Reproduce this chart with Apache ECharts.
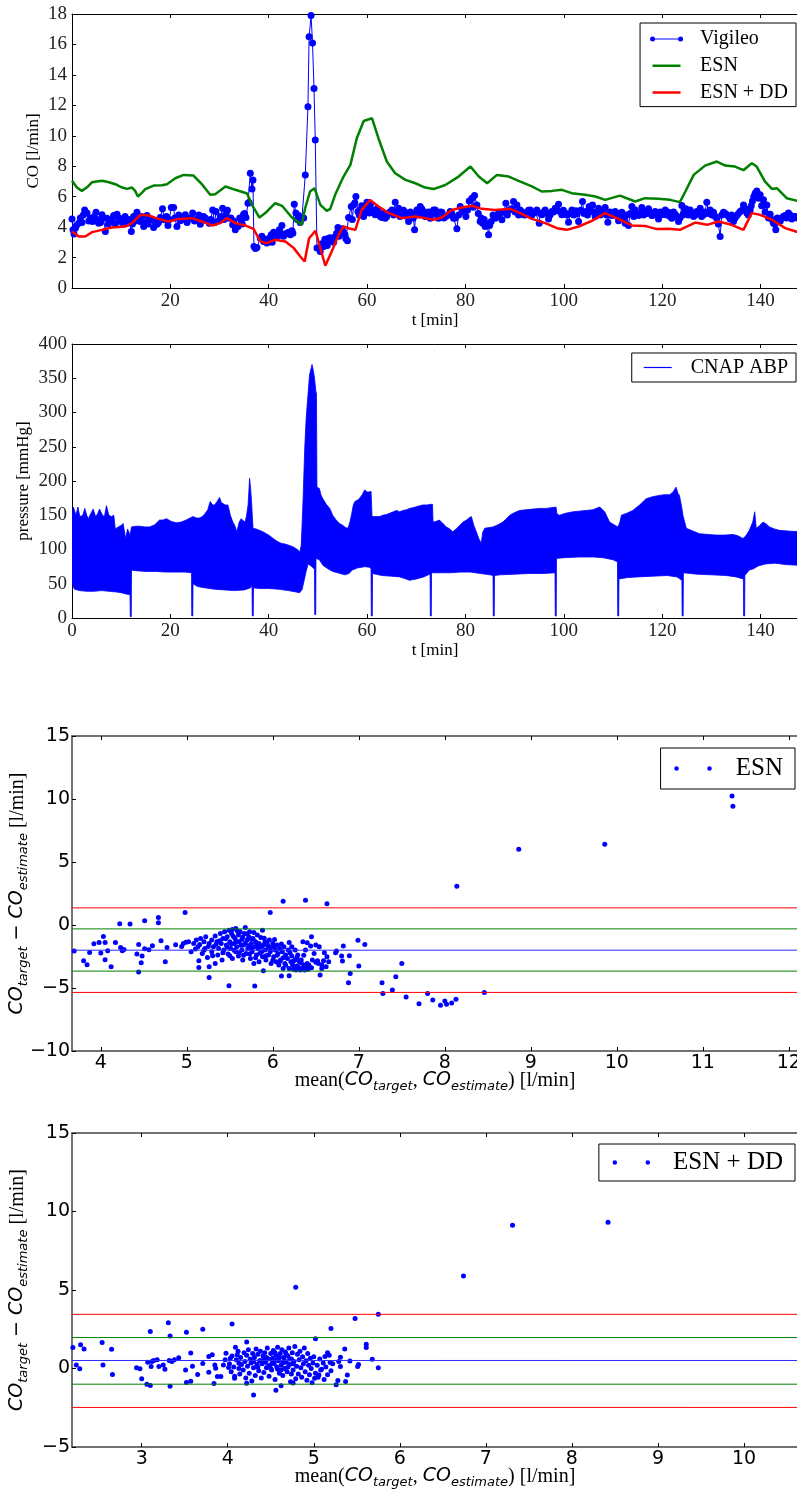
<!DOCTYPE html>
<html><head><meta charset="utf-8">
<script src="https://cdn.jsdelivr.net/npm/echarts@6/dist/echarts.min.js"></script>
<style>html,body{margin:0;padding:0;background:#fff}#c{width:797px;height:1492px}</style>
</head><body><div id="c"></div>
<script>
// ---------- Panel 1: CO over time ----------
const vigileo = [[0,4.54],[0.2,3.82],[0.4,3.54],[0.68,3.93],[1.36,4.26],[2.03,4.3],[2.57,5.13],[3.05,4.92],[3.73,4.59],[4.2,4.37],[4.88,4.98],[5.42,4.26],[6.1,4.81],[6.78,3.71],[7.11,4.59],[7.79,4.37],[8.47,4.76],[9.15,4.85],[9.82,4.41],[10.5,4.59],[11.18,4.26],[12.06,3.71],[12.53,4.7],[13.21,4.98],[13.89,4.37],[14.57,4.04],[15.24,4.76],[15.72,4.54],[16.6,3.97],[17.28,4.19],[17.95,4.63],[18.83,4.48],[19.51,4.11],[20.19,5.29],[20.66,5.29],[21.34,4.04],[22.02,4.41],[23.04,4.81],[23.85,4.59],[24.53,4.92],[25.41,4.54],[26.08,4.19],[26.76,4.7],[27.44,4.41],[27.91,4.26],[28.59,5.13],[29.27,5.02],[29.81,4.41],[30.62,5.24],[31.3,4.85],[31.98,4.59],[32.66,4.15],[33.2,3.82],[33.74,4.04],[34.42,4.37],[34.89,4.85],[35.37,4.63],[35.77,5.57],[36.0,5.62],[36.25,7.54],[36.59,6.51],[36.79,7.1],[36.99,2.73],[37.3,2.6],[37.6,2.66],[38.28,3.27],[38.96,3.06],[39.63,2.95],[40.51,3.49],[40.99,3.67],[41.46,3.38],[42.14,3.82],[42.68,4.11],[43.36,3.54],[44.04,3.67],[44.72,3.76],[45.19,5.51],[45.53,4.92],[46.07,4.76],[46.75,4.59],[47.43,7.43],[47.97,11.9],[48.2,16.5],[48.6,17.9],[48.9,16.1],[49.2,13.1],[49.46,9.73],[49.8,2.62],[50.47,2.4],[51.15,2.73],[51.63,3.06],[52.17,3.27],[52.85,3.06],[53.52,3.38],[54.07,3.97],[54.54,3.71],[55.22,3.67],[55.69,3.23],[56.23,4.63],[56.78,5.35],[57.25,5.46],[57.72,6.01],[58.13,5.02],[58.6,5.13],[59.28,4.7],[59.96,5.64],[60.43,4.92],[60.98,5.13],[61.65,4.81],[62.33,4.98],[63.01,4.63],[63.69,4.59],[64.36,4.92],[65.04,5.13],[65.72,5.64],[66.4,5.24],[67.07,4.76],[67.75,4.98],[68.43,4.37],[69.11,4.81],[69.65,3.82],[70.12,5.13],[70.8,5.35],[71.48,5.02],[72.15,4.81],[72.83,4.59],[73.51,5.13],[73.85,5.13],[74.53,4.59],[75.2,4.98],[76.02,4.7],[76.9,5.02],[77.57,4.59],[78.25,3.89],[78.93,5.35],[79.61,5.13],[80.08,4.7],[80.76,5.72],[81.3,5.9],[81.84,6.07],[82.32,5.46],[82.99,4.37],[83.47,4.26],[84.01,4.04],[84.69,3.49],[85.23,4.37],[86.04,4.59],[86.72,4.92],[87.4,4.48],[88.21,5.57],[88.89,5.13],[89.77,5.68],[90.45,5.46],[91.12,5.13],[91.8,4.81],[92.48,4.98],[93.16,5.13],[93.83,4.92],[94.51,5.13],[94.99,4.26],[95.53,4.81],[96.2,5.13],[96.88,4.54],[97.56,5.02],[98.24,5.24],[98.92,5.51],[99.59,4.81],[100.27,4.92],[100.95,4.32],[101.63,5.13],[102.44,5.07],[102.98,4.37],[103.79,5.68],[104.47,5.02],[105.15,5.35],[105.83,5.46],[106.37,4.7],[107.05,5.24],[107.72,5.02],[108.4,5.29],[108.94,4.32],[109.76,4.76],[110.43,5.02],[111.11,4.41],[111.79,4.98],[112.47,4.26],[113.14,4.11],[113.82,5.35],[114.5,5.13],[115.18,4.76],[115.85,5.29],[116.53,5.02],[117.21,5.2],[117.89,4.76],[118.56,5.02],[119.24,4.54],[119.92,4.81],[120.6,5.13],[121.27,4.98],[121.95,4.59],[122.63,4.85],[123.31,4.37],[123.98,5.42],[124.53,5.13],[125.0,4.98],[125.68,5.13],[126.36,4.7],[127.03,5.02],[127.71,5.24],[128.39,4.81],[129.06,5.64],[129.74,5.13],[130.42,4.98],[131.1,4.59],[131.77,3.38],[132.45,4.98],[133.13,4.81],[133.81,4.54],[134.48,4.37],[135.16,4.76],[135.84,5.02],[136.52,5.46],[137.19,4.92],[137.87,5.13],[138.35,5.72],[138.89,6.23],[139.23,6.38],[139.9,6.12],[140.58,5.79],[141.26,5.46],[141.94,4.85],[142.61,4.26],[143.09,3.82],[143.63,4.37],[144.31,4.59],[144.99,4.76],[145.66,4.92],[146.34,4.54],[147.02,4.7]];
// further Vigileo readings between the ones above
const vigileoMore = [[0.9,4.1],[1.7,4.6],[2.3,4.8],[3.4,4.4],[4.5,4.7],[5.1,4.5],[5.8,4.3],[6.4,4.6],[7.4,4.2],[8.1,4.5],[8.8,4.2],[9.5,4.6],[10.2,4.3],[10.8,4.7],[11.6,4.5],[12.3,4.2],[12.9,4.4],[13.5,4.6],[14.2,4.7],[14.9,4.3],[15.5,4.2],[16.2,4.5],[16.9,4.4],[17.6,4.3],[18.4,5.2],[19.2,4.7],[19.8,4.5],[20.9,4.6],[21.7,4.8],[22.4,4.5],[23.4,4.3],[24.2,4.6],[24.9,4.4],[25.8,4.8],[26.4,4.5],[27.1,4.6],[28.2,4.5],[29.0,4.3],[30.2,4.7],[30.9,4.5],[31.6,5.1],[32.3,4.6],[32.9,4.4],[34.1,4.6],[34.6,4.2],[35.1,4.9],[38.6,3.4],[39.3,3.2],[40.2,3.3],[40.7,3.0],[41.2,3.5],[41.8,3.4],[42.4,3.6],[43.0,3.4],[43.7,3.6],[44.4,3.5],[44.9,3.6],[45.8,4.5],[46.4,4.3],[47.1,4.6],[50.8,2.9],[51.4,3.2],[51.9,2.8],[52.5,3.3],[53.2,3.0],[53.8,3.6],[54.3,3.4],[54.9,3.9],[55.5,3.5],[56.0,3.1],[57.0,4.5],[57.5,5.6],[58.4,4.8],[58.9,5.4],[59.6,5.0],[60.2,5.3],[60.7,5.5],[61.3,5.0],[62.0,5.2],[62.7,4.7],[63.4,4.9],[64.0,4.7],[64.7,5.0],[65.4,4.8],[66.1,5.0],[66.7,4.7],[67.4,5.1],[68.1,4.7],[68.8,5.0],[69.4,4.6],[69.9,4.9],[70.5,4.8],[71.1,5.2],[71.8,4.7],[72.5,5.0],[73.2,4.9],[74.2,4.8],[74.9,5.0],[75.6,4.6],[76.5,4.8],[77.2,4.9],[77.9,4.6],[78.6,4.8],[79.3,5.0],[80.4,5.1],[81.6,5.3],[82.6,4.9],[83.2,4.6],[83.8,4.5],[84.4,4.2],[84.9,4.1],[85.6,4.8],[86.4,4.7],[87.0,4.9],[87.8,5.0],[88.5,4.8],[89.3,5.2],[90.1,5.0],[90.8,4.8],[91.5,5.0],[92.1,4.8],[92.8,5.1],[93.5,4.8],[94.2,5.0],[95.2,4.9],[95.9,5.0],[96.5,4.9],[97.2,4.8],[97.9,5.0],[98.6,5.1],[99.3,5.0],[99.9,5.1],[100.6,4.8],[101.3,4.9],[102.0,4.8],[102.7,4.9],[103.4,5.1],[104.1,4.9],[104.8,4.8],[105.5,5.1],[106.0,5.0],[106.7,4.9],[107.4,4.8],[108.0,4.9],[108.7,4.8],[109.4,5.0],[110.1,4.8],[110.8,4.9],[111.5,4.7],[112.1,4.6],[112.8,4.8],[113.5,4.9],[114.2,4.7],[114.8,4.9],[115.5,4.9],[116.2,4.8],[116.9,4.9],[117.5,5.0],[118.2,4.8],[118.9,4.9],[119.6,5.0],[120.3,4.9],[120.9,4.8],[121.6,4.7],[122.3,5.0],[123.0,4.7],[123.6,4.6],[124.2,4.8],[124.8,5.2],[125.3,4.8],[126.0,4.9],[126.7,4.8],[127.4,4.9],[128.0,4.7],[128.7,5.0],[129.4,4.9],[130.1,4.8],[130.8,4.7],[131.4,4.2],[132.1,4.8],[132.8,4.9],[133.5,4.7],[134.1,4.8],[134.8,4.6],[135.5,4.9],[136.2,5.1],[136.9,5.2],[137.5,4.8],[138.1,5.4],[138.6,6.0],[139.6,5.9],[140.2,5.4],[140.9,5.0],[141.6,4.6],[142.3,4.5],[142.9,4.2],[143.4,4.6],[144.0,4.4],[144.6,4.7],[145.3,4.6],[146.0,4.8],[146.7,4.7],[147.4,4.6]];

const esn = [[0,7.04],[1.0,6.6],[2.0,6.38],[3.0,6.6],[4.1,6.95],[5.0,7.0],[6.1,7.04],[7.5,6.95],[8.8,6.82],[10.2,6.6],[11.2,6.51],[12.2,6.6],[12.8,6.4],[13.4,6.01],[14.2,6.25],[14.9,6.49],[16.6,6.73],[18.3,6.75],[19.3,6.82],[21.0,7.21],[22.7,7.43],[24.7,7.39],[26.4,6.82],[28.1,6.12],[29.1,6.16],[31.2,6.67],[33.2,6.45],[35.6,6.21],[36.6,5.46],[38.1,4.63],[39.3,4.92],[41.3,5.57],[42.7,5.4],[44.7,4.63],[46.7,4.15],[47.4,5.24],[48.4,6.34],[49.3,6.56],[50.5,5.46],[51.8,5.07],[52.5,5.2],[53.5,6.12],[55.2,7.32],[56.6,8.09],[57.9,9.84],[59.3,10.97],[61.0,11.15],[62.3,9.84],[64.0,8.31],[65.7,7.54],[67.8,7.1],[69.8,6.88],[71.8,6.6],[73.5,6.5],[75.9,6.77],[78.6,7.32],[81.0,7.98],[82.7,7.32],[84.4,6.88],[86.4,7.43],[88.8,7.32],[90.8,7.04],[93.5,6.67],[95.5,6.34],[97.6,6.38],[99.6,6.45],[101.6,6.23],[104.3,6.12],[106.4,6.01],[108.4,5.79],[111.4,6.07],[114.5,5.68],[116.5,5.9],[119.2,5.86],[121.6,5.79],[123.6,5.64],[124.7,6.34],[126.4,7.43],[128.7,8.04],[131.1,8.31],[132.8,8.04],[134.8,7.98],[136.5,7.74],[138.2,8.2],[139.2,7.98],[140.9,6.99],[142.3,6.51],[143.3,6.56],[145.3,5.9],[147.6,5.72]];

const esnDD = [[0,3.71],[1.4,3.38],[2.7,3.38],[4.1,3.67],[6.1,3.82],[8.1,3.97],[10.8,4.04],[12.2,4.26],[13.9,4.81],[15.6,4.76],[17.6,4.54],[19.6,4.37],[21.7,4.54],[24.4,4.59],[26.4,4.37],[28.5,4.11],[30.1,4.26],[31.5,4.59],[33.2,4.26],[35.2,4.11],[36.9,3.89],[38.3,3.06],[39.6,2.95],[41.3,3.17],[43.4,3.06],[45.1,2.62],[46.4,2.07],[47.3,1.74],[48.2,3.27],[49.5,3.76],[50.3,2.84],[51.5,1.46],[52.8,2.4],[54.2,3.49],[55.2,4.04],[56.2,3.93],[57.6,3.82],[58.9,5.13],[60.6,5.79],[62.3,5.35],[64.4,4.92],[67.1,4.59],[69.8,4.7],[71.8,4.59],[73.5,4.48],[75.2,4.63],[77.2,5.13],[79.3,5.29],[81.3,5.4],[83.3,5.2],[86.0,5.13],[89.1,5.2],[91.1,4.92],[93.5,4.54],[96.2,4.26],[98.6,3.93],[100.6,3.82],[103.0,4.04],[105.7,4.41],[108.4,4.92],[111.1,4.54],[113.8,4.11],[116.5,4.08],[118.9,3.87],[121.3,3.89],[123.6,3.82],[126.7,4.3],[129.1,4.15],[131.4,4.37],[134.1,4.15],[136.5,3.82],[138.2,4.92],[139.9,4.81],[142.3,4.48],[145.0,3.93],[147.6,3.67]];

// ---------- Panel 2: CNAP ABP envelope ----------
const abpUpper = [[0,150],[0.3,162],[0.8,150],[1.2,162],[1.6,148],[2.2,150],[2.6,160],[3.0,150],[3.3,145],[3.8,152],[4.3,159],[4.8,148],[5.2,152],[5.6,159],[6.2,150],[6.6,148],[7.0,164],[7.5,150],[8.0,148],[8.5,150],[8.8,130],[9.4,133],[10.0,135],[10.4,138],[10.9,116],[11.3,130],[11.8,121],[12.1,133],[13.0,134],[13.8,134],[14.8,133],[15.8,133],[16.8,136],[17.8,143],[18.5,143],[19.2,145],[20.2,141],[21.2,139],[22.2,140],[23.2,143],[24.0,146],[24.6,148],[25.3,146],[25.9,146],[26.5,148],[27.0,152],[27.6,158],[28.1,170],[28.6,165],[29.0,165],[29.5,170],[30.0,176],[30.4,168],[30.7,167],[31.2,165],[31.7,165],[32.2,150],[32.7,140],[33.1,135],[33.5,126],[34.0,140],[34.4,145],[34.8,142],[35.2,140],[35.5,150],[35.8,165],[36.0,190],[36.1,204],[36.3,190],[36.5,170],[36.8,131],[37.4,130],[38.1,128],[38.8,126],[39.5,123],[40.2,120],[40.9,116],[41.7,112],[42.5,109],[43.3,108],[44.2,106],[44.9,104],[45.6,101],[46.0,99],[46.3,96],[46.6,106],[46.8,140],[47.0,177],[47.3,245],[47.6,291],[48.0,328],[48.3,355],[48.6,364],[48.8,370],[49.1,360],[49.3,350],[49.6,330],[49.7,328],[49.8,191],[50.3,189],[50.6,180],[51.0,174],[51.7,166],[52.4,160],[53.0,150],[53.7,143],[54.4,138],[55.1,135],[55.6,132],[56.1,131],[56.5,140],[56.8,150],[57.2,165],[57.5,170],[58.0,172],[58.5,175],[59.0,180],[59.5,187],[60.0,184],[60.5,184],[60.8,185],[61.0,148],[61.8,148],[62.5,148],[63.2,150],[63.9,151],[64.6,153],[65.3,155],[66.0,157],[66.6,155],[67.3,157],[68.0,158],[68.6,160],[69.3,161],[70.3,163],[71.3,165],[72.2,165],[73.0,166],[73.3,166],[73.4,140],[74.0,141],[74.7,143],[75.4,138],[76.1,133],[76.8,130],[77.4,126],[78.1,130],[78.8,135],[79.5,140],[80.2,143],[80.7,146],[81.2,148],[81.7,135],[82.2,126],[82.7,116],[83.2,109],[83.5,125],[83.9,131],[84.8,132],[85.6,133],[86.6,136],[87.6,140],[88.3,145],[89.0,150],[90.0,154],[91.0,157],[92.3,158],[93.7,159],[95.0,160],[96.4,160],[97.4,161],[98.4,162],[98.6,152],[99.1,150],[100.4,153],[101.8,155],[103.1,156],[104.5,157],[105.9,158],[107.3,162],[108.3,155],[109.3,140],[110.2,136],[111.0,133],[111.4,140],[111.7,150],[112.8,153],[114.0,157],[115.4,165],[116.7,174],[118.0,177],[119.4,179],[120.5,180],[121.5,180],[122.2,184],[122.8,191],[123.2,182],[123.5,179],[124.0,160],[124.2,150],[124.9,131],[126.2,127],[127.6,123],[129.3,122],[131.0,121],[132.7,121],[134.4,122],[135.4,120],[136.4,116],[137.0,120],[137.7,128],[138.4,140],[138.8,155],[139.0,140],[139.1,131],[139.8,135],[140.5,140],[141.2,137],[141.8,133],[142.8,130],[143.8,128],[145.5,127],[147.6,126]];

const abpLower = [[0,50],[0.5,42],[1.5,40],[3.0,39],[4.5,39],[6.0,40],[7.5,39],[9.0,38],[10.0,37],[11.0,35],[11.8,34],[11.85,2],[12.05,2],[12.1,70],[13.0,69],[15.0,68],[17.0,68],[19.0,67],[21.0,67],[23.0,67],[24.3,66],[24.35,3],[24.55,3],[24.6,50],[25.5,46],[27.0,44],[29.0,42],[31.0,41],[33.0,40],[35.0,41],[36.3,44],[36.6,48],[36.65,3],[36.85,3],[36.9,44],[38.0,43],[40.0,43],[42.0,42],[44.0,40],[45.5,38],[46.3,37],[46.8,42],[47.2,55],[47.6,68],[48.0,79],[48.6,76],[49.2,72],[49.3,72],[49.35,5],[49.55,5],[49.6,87],[50.3,85],[51.0,77],[52.0,72],[53.0,68],[54.0,66],[55.5,63],[56.3,65],[57.0,70],[58.0,73],[59.5,75],[60.5,74],[60.8,72],[60.85,3],[61.05,3],[61.1,65],[63.0,62],[65.0,61],[66.6,60],[67.5,58],[68.6,55],[70.0,57],[71.5,60],[72.7,64],[72.8,64],[72.85,3],[73.05,3],[73.1,66],[75.0,66],[77.0,66],[79.0,67],[81.0,67],[83.0,65],[85.0,63],[85.6,62],[85.65,3],[85.85,3],[85.9,62],[87.0,63],[90.0,64],[93.0,65],[96.0,65],[98.2,66],[98.25,3],[98.45,3],[98.5,87],[100.0,88],[103.0,89],[106.0,89],[108.0,88],[110.0,85],[110.9,82],[110.95,3],[111.15,3],[111.2,57],[113.0,59],[115.0,60],[118.0,61],[121.0,62],[123.0,60],[124.0,55],[124.05,3],[124.25,3],[124.3,66],[127.0,64],[130.0,63],[133.0,62],[135.0,60],[136.5,57],[136.55,3],[136.75,3],[136.8,62],[137.7,70],[138.6,72],[139.5,76],[141.0,79],[143.0,80],[145.0,78],[147.6,77]];

// ---------- Panel 3: Bland-Altman ESN ----------
const baEsn = [[3.69,-2.07],[3.8,-2.84],[3.84,-3.15],[3.87,-2.18],[3.92,-1.49],[3.98,-1.38],[4.0,-2.23],[4.03,-0.91],[4.05,-2.76],[4.05,-1.38],[4.08,-2.04],[4.12,-3.31],[4.17,-1.38],[4.22,0.1],[4.23,-1.78],[4.25,-2.04],[4.27,-1.94],[4.34,0.07],[4.42,-2.31],[4.44,-1.54],[4.47,-3.0],[4.44,-3.74],[4.48,-2.47],[4.51,0.34],[4.51,-1.89],[4.56,-1.96],[4.6,-1.65],[4.67,0.6],[4.67,0.18],[4.7,-1.25],[4.75,-2.92],[4.77,-1.78],[4.87,-1.57],[4.94,-1.7],[4.96,-1.46],[4.98,1.0],[4.99,-1.36],
[5.02,-1.33],[5.05,-2.12],[5.08,-1.46],[5.11,-1.2],[5.13,-1.73],[5.14,-2.84],[5.16,-1.07],[5.18,-2.26],[5.2,-1.33],[5.21,-1.86],[5.22,-0.93],[5.24,-2.57],[5.26,-1.46],[5.26,-3.31],[5.29,-1.2],[5.29,-2.12],[5.31,-1.73],[5.33,-3.05],[5.33,-0.88],[5.35,-1.33],[5.36,-2.39],[5.37,-1.86],[5.39,-0.67],[5.4,-1.46],[5.41,-2.78],[5.42,-1.07],[5.43,-1.99],[5.44,-0.54],[5.46,-1.59],[5.47,-0.93],[5.48,-2.31],[5.49,-0.41],[5.5,-1.33],[5.51,-1.86],[5.52,-0.67],[5.53,-2.65],[5.53,-0.35],[5.55,-1.46],[5.56,-1.07],[5.57,-2.12],[5.57,-0.27],[5.58,-1.73],[5.6,-0.8],[5.6,-2.47],[5.61,-1.33],[5.62,-0.54],[5.64,-1.99],[5.64,-1.15],[5.65,-2.78],[5.66,-1.59],[5.67,-0.67],[5.68,-0.19],[5.69,-2.26],[5.7,-1.2],[5.71,-1.86],[5.72,-0.93],[5.73,-0.54],[5.74,-2.65],[5.75,-1.46],[5.76,-2.12],[5.77,-1.07],[5.78,-3.05],[5.79,-1.73],[5.8,-1.33],[5.81,-2.39],[5.82,-0.8],[5.83,-1.86],[5.84,-2.92],[5.84,-1.46],[5.86,-0.99],[5.87,-2.12],[5.88,-0.41],[5.88,-2.52],[5.89,-1.59],[5.91,-1.33],[5.91,-1.99],[5.92,-2.78],[5.93,-1.46],[5.95,-1.86],[5.95,-2.39],[5.96,-1.2],[5.97,-2.12],[5.98,-3.05],[5.99,-1.73],[6.0,-1.46],[6.01,-2.52],[6.02,-1.15],[6.03,-1.99],[6.04,-2.92],[6.05,-1.59],[6.06,-2.26],[6.07,-3.18],[6.08,-1.86],[6.09,-2.78],[6.1,-4.05],[6.11,-2.12],[6.12,-3.45],[6.13,-1.73],[6.14,-3.05],[6.15,-2.39],[6.17,-2.65],[6.18,-1.99],[6.19,-1.38],[6.19,-3.45],[6.21,-2.92],[6.22,-2.47],[6.22,-1.73],[6.23,-3.18],[6.24,-3.52],[6.26,-2.78],[6.26,-1.99],[6.27,-3.58],[6.28,-2.57],[6.29,-2.39],[6.3,-3.37],[6.31,-2.92],[6.32,-3.58],[6.33,-2.78],[6.34,-3.45],[6.35,-1.33],[6.36,-3.18],[6.37,-3.58],[6.38,-1.99],[6.39,-3.37],[6.4,-1.41],[6.41,-3.52],[6.42,-3.18],[6.43,-3.37],[6.44,-1.67],[6.45,-0.93],[6.46,-2.78],[6.48,-2.26],[6.5,-1.59],[6.52,-2.84],[6.53,-3.05],[6.54,-1.73],[6.55,-3.97],[6.57,-3.18],[6.57,-3.45],[6.59,-2.84],[6.6,-2.2],[6.62,-3.31],[6.63,-2.52],[6.65,-2.92],[6.73,-2.2],[6.74,-2.07],[6.8,-2.47],[6.81,-2.86],[6.82,-1.67],[6.88,-4.58],[6.89,-2.44],[6.9,-3.84],[6.99,-1.22],[7.0,-3.26],[7.07,-1.54],
[5.49,-4.82],[5.79,-4.85],[5.26,-4.16],[6.19,-4.03],[5.89,-3.63],[5.14,-3.37],
[5.34,-1.55],[5.38,-1.25],[5.42,-2.2],[5.45,-1.1],[5.47,-1.75],[5.5,-2.45],[5.52,-1.5],[5.54,-0.9],[5.55,-2.0],[5.58,-1.3],[5.59,-0.5],[5.61,-2.2],[5.63,-1.6],[5.65,-0.95],[5.66,-2.4],[5.68,-1.45],[5.7,-0.7],[5.72,-1.65],[5.73,-2.3],[5.75,-1.1],[5.76,-1.85],[5.78,-0.6],[5.8,-2.6],[5.82,-1.55],[5.85,-2.25],[5.87,-1.7],[5.9,-1.05],[5.92,-2.45],[5.94,-1.6],[5.97,-2.0],[6.0,-2.8],[6.02,-1.7],[6.05,-2.4],[6.08,-2.9],[6.1,-1.5],[6.12,-2.6],[6.15,-3.2],[6.2,-2.2],[6.24,-2.85],[6.28,-3.25],[6.33,-3.0],[6.36,-2.4],[6.4,-3.05],[6.45,-3.4],[6.5,-2.95],[5.25,-1.7],[5.2,-2.0],[5.3,-2.45],[5.15,-1.55],[5.1,-1.9],
[5.97,1.0],[6.12,1.89],[6.38,1.97],[6.63,1.68],
[7.27,-4.58],[7.28,-5.43],[7.39,-5.16],[7.43,-4.11],[7.5,-3.05],[7.55,-5.72],[7.7,-6.25],[7.8,-5.43],[7.86,-5.96],[7.95,-6.36],[8.0,-6.04],[8.02,-6.28],[8.08,-6.2],[8.13,-5.9],[8.14,3.08],[8.46,-5.35],[8.86,6.02],[9.86,6.41],[11.34,10.24],[11.35,9.42]];
const baEsnLines = [1.36, -0.31, -2.0, -3.66, -5.35];

// ---------- Panel 4: Bland-Altman ESN + DD ----------
const baDD = [[2.2,1.33],[2.29,1.52],[2.33,1.25],[2.24,0.23],[2.28,-0.02],[2.54,1.65],[2.65,1.23],[2.55,0.23],[2.66,-0.38],[2.94,0.04],[2.98,-0.02],[3.0,-0.66],[3.07,0.4],[3.06,-1.0],[3.1,-1.08],[3.1,2.35],[3.11,0.12],[3.12,0.44],[3.14,0.51],[3.18,0.55],[3.2,0.12],[3.25,0.23],[3.27,-0.05],[3.31,2.92],[3.32,0.51],[3.33,-1.13],[3.33,2.07],[3.35,0.44],[3.38,0.55],[3.43,0.68],[3.51,-0.09],[3.52,-0.89],[3.52,2.31],[3.57,0.99],[3.57,-0.81],[3.59,0.15],[3.65,-0.38],[3.71,0.32],[3.71,2.5],[3.78,-0.24],[3.78,0.76],[3.82,0.87],[3.84,-0.96],[3.85,0.23],[3.86,0.02],[3.88,-0.51],[3.92,-0.51],[3.95,0.23],[3.97,0.55],[3.98,0.97],[4.01,0.06],[4.03,0.65],[4.05,2.84],[4.08,-0.62],[4.09,1.35],[4.11,0.87],[4.13,0.34],[4.22,1.69],[4.22,-0.94],[4.3,-1.68],[4.56,-1.38],[4.62,-1.1],[4.76,-0.93],[4.79,5.17],
[4.02,0.3],[4.04,-0.2],[4.05,0.8],[4.07,0.1],[4.08,-0.5],[4.1,0.55],[4.12,1.1],[4.13,0.0],[4.14,-0.35],[4.15,0.7],[4.16,0.25],[4.18,-0.1],[4.19,1.0],[4.2,0.45],[4.21,-0.6],[4.22,0.85],[4.23,0.15],[4.24,1.2],[4.25,-0.3],[4.26,0.6],[4.27,0.35],[4.28,-0.8],[4.29,0.95],[4.3,0.05],[4.31,0.7],[4.32,-0.45],[4.33,1.25],[4.34,0.25],[4.35,0.9],[4.36,-0.15],[4.37,0.5],[4.38,1.1],[4.39,-0.6],[4.4,0.3],[4.41,0.8],[4.42,-0.25],[4.43,1.0],[4.44,0.4],[4.45,0.05],[4.46,1.3],[4.47,0.6],[4.48,-0.5],[4.49,0.2],[4.5,0.95],[4.51,-0.1],[4.52,0.65],[4.53,1.15],[4.54,0.3],[4.55,-0.7],[4.56,0.85],[4.57,0.1],[4.58,1.35],[4.59,0.5],[4.6,-0.3],[4.61,0.95],[4.62,0.2],[4.63,1.2],[4.64,-0.45],[4.65,0.7],[4.66,0.0],[4.67,1.05],[4.68,0.4],[4.69,-0.2],[4.7,0.8],[4.71,1.3],[4.72,0.25],[4.73,-0.85],[4.74,0.6],[4.75,1.0],[4.76,-0.1],[4.77,0.45],[4.78,1.4],[4.79,-0.65],[4.8,0.15],[4.81,0.9],[4.82,-0.35],[4.83,0.55],[4.84,1.1],[4.85,0.05],[4.86,-0.55],[4.87,0.75],[4.88,0.3],[4.89,1.3],[4.9,-0.2],[4.91,0.5],[4.92,-0.75],[4.93,0.95],[4.94,0.2],[4.95,-0.4],[4.96,0.65],[4.97,0.0],[4.98,-0.9],[4.99,0.35],[5.0,0.75],[5.02,-0.3],[5.04,0.2],[5.05,-0.55],[5.07,0.6],[5.09,-0.05],[5.11,0.35],[5.12,-0.7],[5.14,0.1],[5.16,-0.4],[5.18,0.85],[5.2,-0.15],[5.22,0.3],
[4.42,0.55],[4.47,0.15],[4.52,0.4],[4.56,0.55],[4.6,0.7],[4.64,0.35],[4.68,0.9],[4.72,0.6],[4.76,0.3],[4.5,0.0],[4.55,1.0],[4.62,-0.1],[4.7,0.1],[4.74,-0.35],[4.66,0.5],[4.58,-0.05],[4.45,0.7],[4.38,0.5],[4.35,0.1],[4.3,0.45],
[5.02,1.9],[5.16,1.01],[5.2,2.54],[5.31,0.72],[5.36,1.25],[5.42,0.48],[5.39,-0.41],[5.37,-0.83],[5.28,-0.77],[5.26,-1.04],[5.48,3.18],[5.51,0.12],[5.52,0.25],[5.61,1.54],[5.61,1.33],[5.68,0.59],[5.75,0.04],[5.75,3.45],[5.29,0.44],[5.31,0.12],[5.19,0.38],[5.13,0.76],[5.08,-0.09],[5.06,-0.41],[5.01,-0.62],
[6.74,5.89],[7.31,9.13],[8.42,9.32]];
const baDDLines = [3.45, 1.97, 0.51, -1.0, -2.48];
const limitColors = ['#ff0000', '#008000', '#2b2bff', '#008000', '#ff0000'];

// tick labels
const tTicks1 = [20, 40, 60, 80, 100, 120, 140];
const tTicks2 = [0, 20, 40, 60, 80, 100, 120, 140];
const baTicks3 = [4, 5, 6, 7, 8, 9, 10, 11, 12];
const baTicks4 = [3, 4, 5, 6, 7, 8, 9, 10];

const serif = 'Liberation Serif';
const sans = 'DejaVu Sans';
const minusFmt = v => (v < 0 ? '\u2212' + (-v) : String(v));

const grids = [
  {left: 72, top: 14, width: 726, height: 274},
  {left: 72, top: 344, width: 726, height: 274},
  {left: 72, top: 736, width: 726, height: 315},
  {left: 72, top: 1133, width: 726, height: 314}
].map(g => Object.assign({containLabel: false, outerBoundsMode: 'none'}, g));
const xr = [[0, 147.6], [0, 147.6], [3.665, 12.107], [2.19, 10.628]];
const xt = [tTicks1, tTicks2, baTicks3, baTicks4];
const frameCol = ['#000', '#000', '#444', '#444'];
const frameW = [1, 1, 1.5, 1.5];

const subRich = {
  s: {fontFamily: serif, fontSize: 20, color: '#000'},
  i: {fontFamily: sans, fontStyle: 'italic', fontSize: 19, color: '#000'},
  m: {fontFamily: sans, fontSize: 19, color: '#000'},
  b: {fontFamily: sans, fontStyle: 'italic', fontSize: 13, color: '#000', padding: [12, 0, 0, 0]}
};

const xAxes = [];
for (let g = 0; g < 4; g++) {
  const ba = g >= 2;
  const bottom = {
    gridIndex: g, type: 'value', min: xr[g][0], max: xr[g][1], nameMoveOverlap: false,
    axisLine: {show: true, onZero: false, lineStyle: {color: frameCol[g], width: frameW[g]}},
    axisTick: {show: true, inside: true, length: 4, customValues: xt[g], lineStyle: {color: '#000'}},
    axisLabel: {customValues: xt[g], margin: ba ? 3 : 4, fontFamily: ba ? sans : serif, fontSize: 19, color: ba ? '#000' : '#222'},
    splitLine: {show: false}
  };
  if (!ba) {
    bottom.name = 't [min]'; bottom.nameLocation = 'middle'; bottom.nameGap = 24;
    bottom.nameTextStyle = {fontFamily: serif, fontSize: 17, color: '#000'};
  } else {
    bottom.name = '{s|mean(}{i|CO}{b|target}{s|, }{i|CO}{b|estimate}{s|) [l/min]}';
    bottom.nameLocation = 'middle'; bottom.nameGap = 17;
    bottom.nameTextStyle = {rich: subRich};
  }
  xAxes.push(bottom);
}
for (let g = 0; g < 4; g++) {
  xAxes.push({
    gridIndex: g, type: 'value', position: 'top', min: xr[g][0], max: xr[g][1],
    axisLine: {show: true, onZero: false, lineStyle: {color: frameCol[g], width: frameW[g]}},
    axisTick: {show: true, inside: true, length: 4, customValues: xt[g], lineStyle: {color: '#000'}},
    axisLabel: {show: false}, splitLine: {show: false}
  });
}

const yCfg = [
  {min: 0, max: 18, interval: 2, name: 'CO [l/min]', gap: 30},
  {min: 0, max: 400, interval: 50, name: 'pressure [mmHg]', gap: 40},
  {min: -10, max: 15, interval: 5, name: '{i|CO}{b|target}{m| \u2212 }{i|CO}{b|estimate}{s| [l/min]}', gap: 42},
  {min: -5, max: 15, interval: 5, name: '{i|CO}{b|target}{m| \u2212 }{i|CO}{b|estimate}{s| [l/min]}', gap: 42}
];
const yAxes = yCfg.map((c, g) => {
  const ba = g >= 2;
  return {
    gridIndex: g, type: 'value', min: c.min, max: c.max, interval: c.interval, nameMoveOverlap: false,
    axisLine: {show: true, onZero: false, lineStyle: {color: frameCol[g], width: frameW[g]}},
    axisTick: {show: true, inside: true, length: 4, lineStyle: {color: '#000'}},
    axisLabel: {margin: ba ? 2 : 5, fontFamily: ba ? sans : serif, fontSize: 19, color: ba ? '#000' : '#222', formatter: minusFmt},
    splitLine: {show: false},
    name: c.name, nameLocation: 'middle', nameRotate: 90, nameGap: c.gap,
    nameTextStyle: ba ? {rich: subRich} : {fontFamily: serif, fontSize: 17, color: '#000'}
  };
});

const vigIcon = 'path://M0,2.5 A2.5,2.5 0 1,1 5,2.5 A2.5,2.5 0 1,1 0,2.5 Z M28,2.5 A2.5,2.5 0 1,1 33,2.5 A2.5,2.5 0 1,1 28,2.5 Z M2.5,2 L30.5,2 L30.5,3 L2.5,3 Z';
const lineIcon = 'path://M0,0 L0.01,0 L0,0.01 Z M2.5,1.25 L30.5,1.25 L30.5,3.75 L2.5,3.75 Z M33,5 L32.99,5 L33,4.99 Z';
const thinIcon = 'path://M0,0 L28,0 L28,1.2 L0,1.2 Z';
const dotsIcon = 'path://M0,2.25 A2.25,2.25 0 1,1 4.5,2.25 A2.25,2.25 0 1,1 0,2.25 Z M33,2.25 A2.25,2.25 0 1,1 37.5,2.25 A2.25,2.25 0 1,1 33,2.25 Z';

function legendBox(extra) {
  return Object.assign({
    orient: 'vertical', selectedMode: false, backgroundColor: '#fff',
    borderColor: '#000', borderWidth: 1, borderRadius: 0
  }, extra);
}

// limit-of-agreement lines as plain line series spanning the axis range
function limitSeries(vals, g, tag) {
  return vals.map((v, i) => ({
    name: tag + i, type: 'line', xAxisIndex: g, yAxisIndex: g, silent: true,
    data: [[xr[g][0], v], [xr[g][1], v]], symbol: 'none', z: 5,
    lineStyle: {color: limitColors[i], width: 1}, itemStyle: {color: limitColors[i]}
  }));
}

const option = {
  backgroundColor: '#fff',
  animation: false,
  grid: grids,
  xAxis: xAxes,
  yAxis: yAxes,
  legend: [
    legendBox({right: 1, top: 23, padding: [6, 8, 4, 10], itemGap: 6.8, itemWidth: 33, itemHeight: 5,
      data: [{name: 'Vigileo', icon: vigIcon}, {name: 'ESN', icon: lineIcon}, {name: 'ESN + DD', icon: lineIcon}],
      formatter: n => '{g|}' + n,
      textStyle: {fontFamily: serif, fontSize: 20, lineHeight: 20, color: '#000', rich: {g: {width: 12}}}}),
    legendBox({right: 1, top: 353, padding: [4.5, 8, 4.5, 12], itemWidth: 28, itemHeight: 1.2,
      data: [{name: 'CNAP ABP', icon: thinIcon}],
      formatter: n => '{g|}' + n,
      textStyle: {fontFamily: serif, fontSize: 20, lineHeight: 20, color: '#000', rich: {g: {width: 14}}}}),
    legendBox({right: 2, top: 748, padding: [8, 12, 8, 13.7], itemWidth: 37.5, itemHeight: 4.5,
      data: [{name: 'ESN (BA)', icon: dotsIcon}],
      formatter: () => '{g|}ESN',
      textStyle: {fontFamily: serif, fontSize: 25, lineHeight: 25, color: '#000', rich: {g: {width: 19}}}}),
    legendBox({right: 2, top: 1144, padding: [6, 12, 6, 13.7], itemWidth: 37.5, itemHeight: 4.5,
      data: [{name: 'ESN + DD (BA)', icon: dotsIcon}],
      formatter: () => '{g|}ESN + DD',
      textStyle: {fontFamily: serif, fontSize: 25, lineHeight: 25, color: '#000', rich: {g: {width: 18}}}})
  ],
  series: [
    {name: 'Vigileo', type: 'line', xAxisIndex: 0, yAxisIndex: 0,
      data: vigileo.concat(vigileoMore).sort((a, b) => a[0] - b[0]),
      symbol: 'circle', symbolSize: 7, showSymbol: true, showAllSymbol: true,
      lineStyle: {color: '#0000ff', width: 1}, itemStyle: {color: '#0000ff', borderWidth: 0}, z: 2},
    {name: 'ESN', type: 'line', xAxisIndex: 0, yAxisIndex: 0, data: esn, symbol: 'none',
      lineStyle: {color: '#008000', width: 2.5}, itemStyle: {color: '#008000', borderWidth: 0}, z: 3},
    {name: 'ESN + DD', type: 'line', xAxisIndex: 0, yAxisIndex: 0, data: esnDD, symbol: 'none',
      lineStyle: {color: '#ff0000', width: 2.5}, itemStyle: {color: '#ff0000', borderWidth: 0}, z: 4},
    {name: 'CNAP ABP', type: 'custom', xAxisIndex: 1, yAxisIndex: 1, data: [[0, 0]],
      itemStyle: {color: '#0000ff'}, clip: true,
      renderItem: function (params, api) {
        const pts = [];
        for (let i = 0; i < abpUpper.length; i++) pts.push(api.coord(abpUpper[i]));
        for (let i = abpLower.length - 1; i >= 0; i--) pts.push(api.coord(abpLower[i]));
        return {type: 'polygon', shape: {points: pts}, style: {fill: '#0000ff', stroke: '#0000ff', lineWidth: 0.8}};
      }},
    {name: 'ESN (BA)', type: 'scatter', xAxisIndex: 2, yAxisIndex: 2, data: baEsn, symbolSize: 5,
      itemStyle: {color: '#0000ff', opacity: 1}, z: 3},
    {name: 'ESN + DD (BA)', type: 'scatter', xAxisIndex: 3, yAxisIndex: 3, data: baDD, symbolSize: 5,
      itemStyle: {color: '#0000ff', opacity: 1}, z: 3}
  ].concat(limitSeries(baEsnLines, 2, 'esnLoA'), limitSeries(baDDLines, 3, 'ddLoA'))
};

const chart = echarts.init(document.getElementById('c'), null, {renderer: 'canvas'});
chart.setOption(option);
</script>
</body></html>
